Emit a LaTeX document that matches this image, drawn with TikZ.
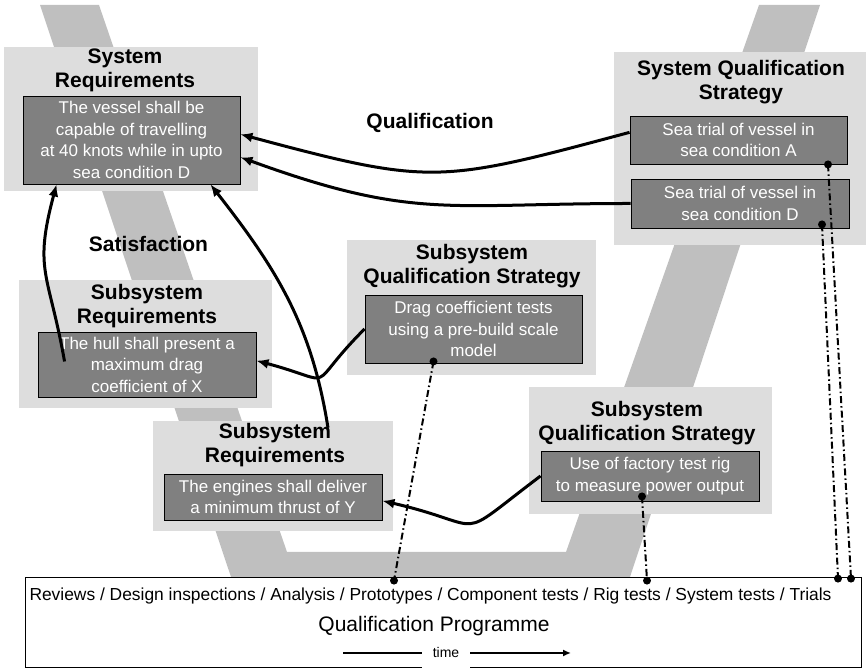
\documentclass[tikz,border=0pt]{standalone}
\usepackage{fontspec}
\setmainfont{Liberation Sans}
\usetikzlibrary{positioning,calc,arrows.meta}
\definecolor{bandGrey}{gray}{0.75}
\definecolor{boxGrey}{gray}{0.865}
\definecolor{noteGrey}{gray}{0.5}
\tikzset{
    outerBox/.style={fill=boxGrey, inner sep=0pt},
    noteBox/.style={draw=black, line width=0.9pt, fill=noteGrey, text=white, align=center,
        inner sep=0pt, font=\fontsize{17}{21.5}\selectfont},
    boxTitle/.style={align=center, font=\fontsize{21}{24}\selectfont\bfseries},
    link/.style={line width=3pt, -{Latex[length=12pt,width=10pt]}},
    trace/.style={line width=2pt, dash pattern=on 7pt off 3pt on 1.5pt off 3pt},
    traceDot/.style={circle, fill=black, inner sep=0pt, minimum size=8pt},
}

\begin{document}
\begin{tikzpicture}[x=1pt,y=1pt]
\useasboundingbox (0,0) rectangle (868,668);
% V band
\fill[bandGrey] (40,663) -- (99,663) -- (287,116) -- (566,116) -- (759,663)
    -- (820,663) -- (630,91) -- (231,91) -- cycle;

% system level
\node[outerBox, minimum width=254, minimum height=144] (sysreqbg) at (131,549) {};
\node[boxTitle] (sysreqtitle) at (125,598) {System\\Requirements};
\node[noteBox, minimum width=217, minimum height=88] (sysreq) at (131.5,528)
    {The vessel shall be\\capable of travelling\\at 40 knots while in upto\\sea condition D};

\node[outerBox, minimum width=252, minimum height=193] (sysqualbg) at (740,519.5) {};
\node[boxTitle] (sysqualtitle) at (741,586) {System Qualification\\Strategy};
\node[noteBox, minimum width=217, minimum height=48] (seaA) at (738.5,528)
    {Sea trial of vessel in\\sea condition A};
\node[noteBox, minimum width=218, minimum height=49] (seaD) at (740,464.5)
    {Sea trial of vessel in\\sea condition D};

% subsystem level
\node[outerBox, minimum width=253, minimum height=128] (hullbg) at (145.5,324) {};
\node[boxTitle] (hulltitle) at (147,362) {Subsystem\\Requirements};
\node[noteBox, minimum width=218, minimum height=65] (hull) at (147,303.5)
    {The hull shall present a\\maximum drag\\coefficient of X};

\node[outerBox, minimum width=240, minimum height=110] (engbg) at (273,192) {};
\node[boxTitle] (engtitle) at (275,223) {Subsystem\\Requirements};
\node[noteBox, minimum width=218, minimum height=46] (eng) at (273,171)
    {The engines shall deliver\\a minimum thrust of Y};

\node[outerBox, minimum width=249, minimum height=135] (dragbg) at (471.5,360.5) {};
\node[boxTitle] (dragtitle) at (472,402) {Subsystem\\Qualification Strategy};
\node[noteBox, minimum width=217, minimum height=68] (drag) at (473.5,339)
    {Drag coefficient tests\\using a pre-build scale\\model};

\node[outerBox, minimum width=243, minimum height=127] (rigbg) at (650.5,217.5) {};
\node[boxTitle] (rigtitle) at (647,245) {Subsystem\\Qualification Strategy};
\node[noteBox, minimum width=218, minimum height=50] (rig) at (650,192)
    {Use of factory test rig\\to measure power output};

\node[boxTitle] (quallbl) at (430,545) {Qualification};
\node[boxTitle] (satlbl) at (148.5,424) {Satisfaction};

% programme
\node[draw=black, line width=0.8pt, fill=white, minimum width=836, minimum height=90] (prog) at (443,46) {};
\node[font=\fontsize{17.4}{20}\selectfont] (progtests) at (430.5,72)
    {Reviews / Design inspections / Analysis / Prototypes / Component tests / Rig tests / System tests / Trials};
\node[font=\fontsize{21}{24}\selectfont] (progtitle) at (434,42) {Qualification Programme};
\node[font=\fontsize{14}{16}\selectfont, fill=white, inner xsep=11pt, minimum height=30] (timelbl) at (446,15) {time};
\coordinate (timeStart) at (343,15);
\coordinate (timeEnd) at (571,15);
\draw[line width=1.8pt] (timeStart) -- (timelbl);
\draw[line width=1.8pt, -{Latex[length=8pt,width=7pt]}] (timelbl) -- (timeEnd);

% qualification and satisfaction links
\draw[link] (seaA.176) to[out=195,in=-15,looseness=1.3] (sysreq.3);
\draw[link] (seaD.west) to[out=180,in=-20,looseness=1.2] (sysreq.-9);
\draw[link] ($(hull.west)+(27,3)$) to[out=100,in=-105,looseness=1.3] ($(sysreq.south west)+(34,0)$);
\draw[link] ($(engbg.north)+(55,-7)$) to[out=99,in=-52] ($(sysreq.south east)+(-30,0)$);
\draw[link] (drag.west) to[out=225,in=-15,looseness=2] (hull.2);
\draw[link] (rig.west) to[out=217,in=-13,looseness=1.8] (eng.-2);

% traces to the programme
\draw[trace] ($(drag.south)+(-40,2)$) node[traceDot]{} -- ($(prog.north)+(-49,-4)$) node[traceDot]{};
\draw[trace] ($(rig.south)+(-8,5)$) node[traceDot]{} -- ($(prog.north)+(204,-4)$) node[traceDot]{};
\draw[trace] ($(seaA.south)+(89.5,0)$) node[traceDot]{} -- ($(prog.north)+(408,-2)$) node[traceDot]{};
\draw[trace] ($(seaD.south)+(82,4)$) node[traceDot]{} -- ($(prog.north)+(395,-2)$) node[traceDot]{};
\end{tikzpicture}
\end{document}
